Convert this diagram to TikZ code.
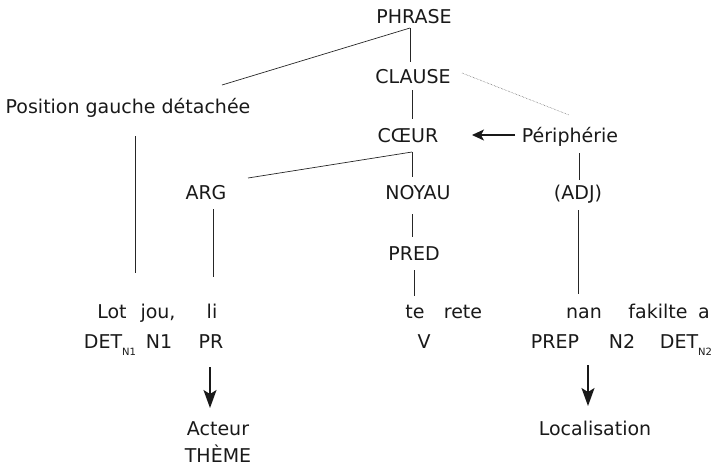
\documentclass[tikz,border=0pt]{standalone}
\usepackage{fontspec}
\setmainfont{DejaVu Sans}
\usetikzlibrary{arrows.meta}
\newcommand{\mysub}[1]{\raisebox{-7pt}{\fontsize{10}{11}\selectfont #1}}
\begin{document}
\begin{tikzpicture}[x=1pt,y=-1pt,
  lbl/.style={inner sep=0pt,anchor=base,font=\fontsize{19}{22}\selectfont,text=black!90},
  edge/.style={line width=0.7pt,black!85},
  dotedge/.style={line width=0.5pt,black!70,densely dotted},
  arr/.style={line width=1.5pt,black!90,-{Stealth[length=18pt,width=13pt,inset=4pt]}},
  harr/.style={line width=1.1pt,black!90,-{Stealth[length=12pt,width=11pt,inset=3pt]}}]
\useasboundingbox (0,0) rectangle (713,467);
% labels
\node[lbl] (phrase) at (414,23) {PHRASE};
\node[lbl] (clause) at (413,83) {CLAUSE};
\node[lbl] (pos) at (128,113) {Position gauche détachée};
\node[lbl] (coeur) at (408,142) {CŒUR};
\node[lbl] (peri) at (570,142) {Périphérie};
\node[lbl] (arg) at (206,199) {ARG};
\node[lbl] (noyau) at (418,199) {NOYAU};
\node[lbl] (adj) at (578,199) {(ADJ)};
\node[lbl] (pred) at (414,260) {PRED};
% row 1
\node[lbl] (lot) at (112,318) {Lot};
\node[lbl] (jou) at (158,318) {jou,};
\node[lbl] (li) at (212,318) {li};
\node[lbl] (te) at (415,318) {te};
\node[lbl] (rete) at (463,318) {rete};
\node[lbl] (nan) at (584,318) {nan};
\node[lbl] (fakilte) at (658,318) {fakilte};
\node[lbl] (a) at (704,318) {a};
% row 2
\node[lbl] (det1) at (110,348) {DET\mysub{N1}};
\node[lbl] (n1) at (159,348) {N1};
\node[lbl] (pr) at (211,348) {PR};
\node[lbl] (v) at (424,348) {V};
\node[lbl] (prep) at (555,348) {PREP};
\node[lbl] (n2) at (622,348) {N2};
\node[lbl] (det2) at (686,348) {DET\mysub{N2}};
% bottom
\node[lbl] (acteur) at (218,435) {Acteur};
\node[lbl] (theme) at (218,462) {THÈME};
\node[lbl] (local) at (595,435) {Localisation};
% endpoints
\coordinate (phB) at (410,28);
\coordinate (clT) at (410,62);
\coordinate (posT) at (222,85);
\coordinate (clR) at (462,73);
\coordinate (periT) at (569,115);
\coordinate (clB) at (412,90);
\coordinate (coT) at (412,119);
\coordinate (periL) at (515,135);
\coordinate (coR) at (472,135);
\coordinate (coB) at (412,152);
\coordinate (noT) at (412,177);
\coordinate (argT) at (248,178);
\coordinate (periB) at (579,153);
\coordinate (adjT) at (579,180);
\coordinate (posB) at (135,136);
\coordinate (lotT) at (135,273);
\coordinate (argB) at (213,209);
\coordinate (liT) at (213,277);
\coordinate (noB) at (412,214);
\coordinate (prT) at (412,237);
\coordinate (prB) at (414,270);
\coordinate (teT) at (414,296);
\coordinate (adjB) at (578,210);
\coordinate (nanT) at (578,294);
\coordinate (prS) at (210,367);
\coordinate (acN) at (210,408);
\coordinate (prepS) at (588,365);
\coordinate (loN) at (588,406);
% connectors
\draw[edge] (phB) -- (clT);
\draw[edge] (phB) -- (posT);
\draw[dotedge] (clR) -- (periT);
\draw[edge] (clB) -- (coT);
\draw[harr] (periL) -- (coR);
\draw[edge] (coB) -- (noT);
\draw[edge] (coB) -- (argT);
\draw[edge] (periB) -- (adjT);
\draw[edge] (posB) -- (lotT);
\draw[edge] (argB) -- (liT);
\draw[edge] (noB) -- (prT);
\draw[edge] (prB) -- (teT);
\draw[edge] (adjB) -- (nanT);
\draw[arr] (prS) -- (acN);
\draw[arr] (prepS) -- (loN);
\end{tikzpicture}
\end{document}
